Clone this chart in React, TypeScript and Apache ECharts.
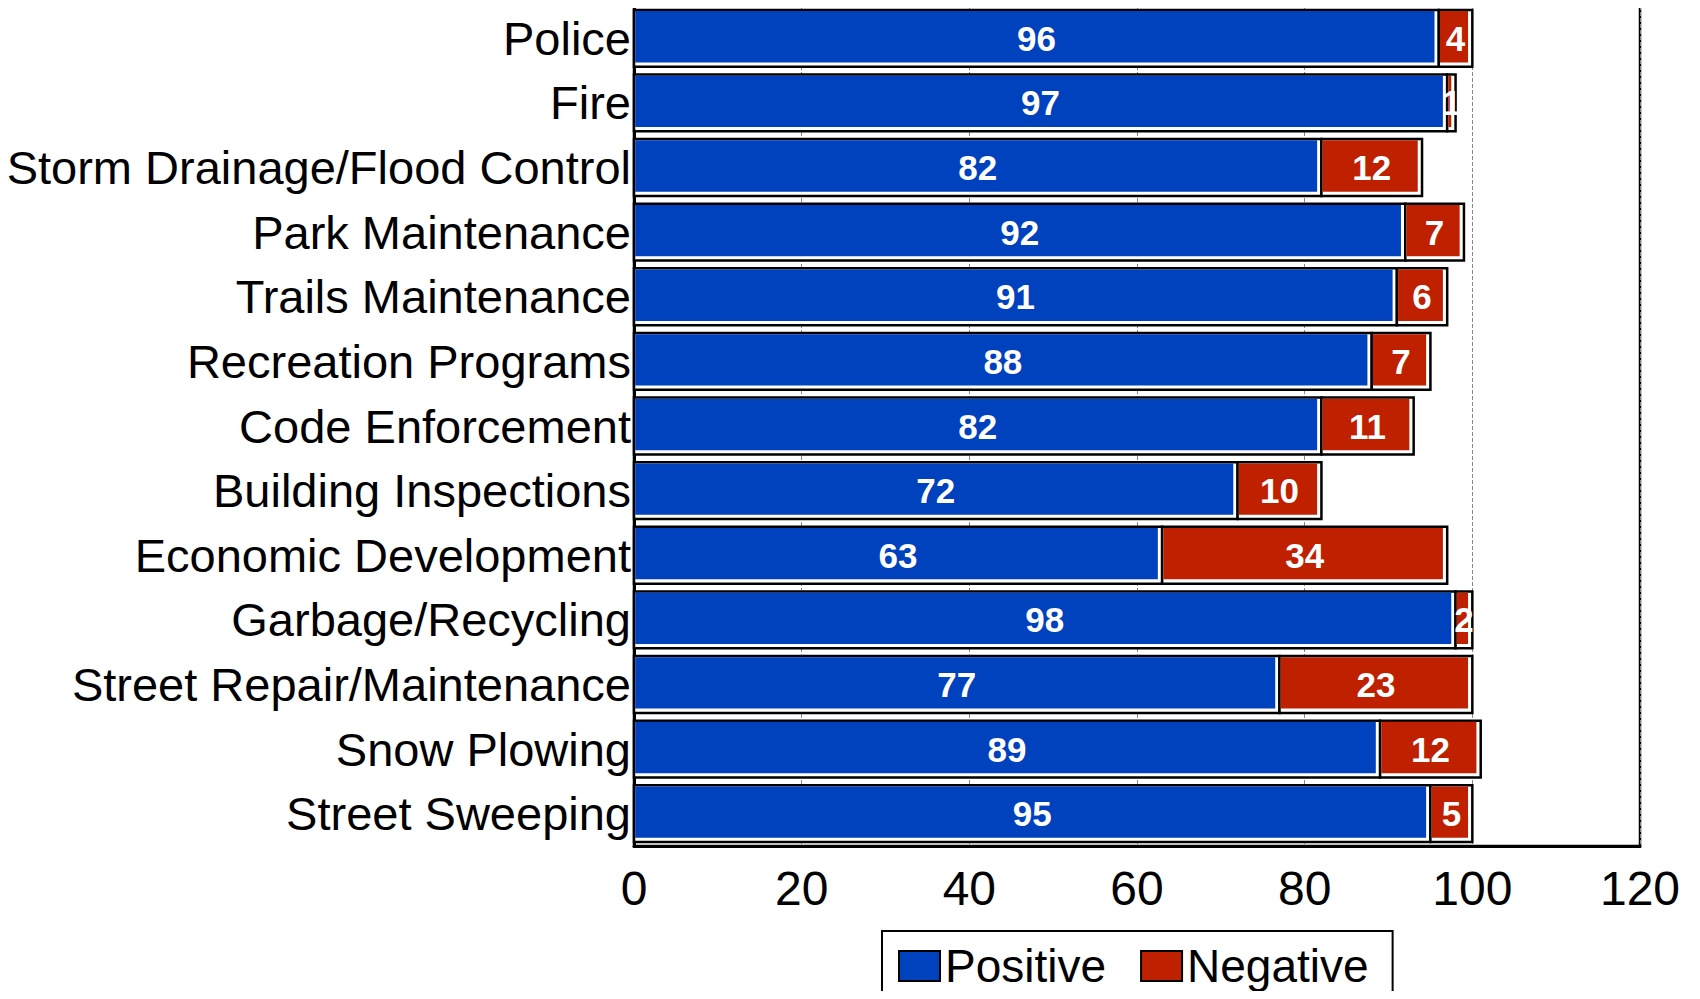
import React, { useEffect, useRef } from "react";
import * as echarts from "echarts";

const categories = [
  "Police",
  "Fire",
  "Storm Drainage/Flood Control",
  "Park Maintenance",
  "Trails Maintenance",
  "Recreation Programs",
  "Code Enforcement",
  "Building Inspections",
  "Economic Development",
  "Garbage/Recycling",
  "Street Repair/Maintenance",
  "Snow Plowing",
  "Street Sweeping",
];
const positive = [96, 97, 82, 92, 91, 88, 82, 72, 63, 98, 77, 89, 95];
const negative = [4, 1, 12, 7, 6, 7, 11, 10, 34, 2, 23, 12, 5];
const seriesNames = ["Positive", "Negative"];
const xTicks = { min: 0, max: 120, interval: 20 };

const BLUE = "#0041BE";
const RED = "#BF2000";
const FONT = "Liberation Sans, Arial, sans-serif";

function makeRender(color: string) {
  return (params: any, api: any) => {
    const start = api.value(0);
    const end = api.value(1);
    const cat = api.value(2);
    const val = api.value(3);
    const p0 = api.coord([start, cat]);
    const p1 = api.coord([end, cat]);
    const band = api.size([0, 1])[1];
    const h = band * 0.88;
    const x = p0[0];
    const y = p0[1] - h / 2;
    const w = p1[0] - p0[0];
    return {
      type: "group",
      children: [
        {
          type: "rect",
          shape: { x, y, width: w, height: h },
          style: { fill: "#fff", stroke: "#000", lineWidth: 2.5 },
        },
        {
          type: "rect",
          shape: {
            x: x + 1.2,
            y: y + 1.2,
            width: Math.max(w - 5.5, 0),
            height: h - 5.5,
          },
          style: { fill: color },
        },
        {
          type: "text",
          x: x + w / 2,
          y: p0[1],
          style: {
            text: String(val),
            fill: "#fff",
            fontSize: 35,
            fontWeight: "bold",
            fontFamily: FONT,
            align: "center",
            verticalAlign: "middle",
          },
        },
      ],
    };
  };
}

export default function App() {
  const ref = useRef<HTMLDivElement>(null);
  useEffect(() => {
    if (!ref.current) return;
    const chart = echarts.init(ref.current, null, { renderer: "svg" });
    const posData = positive.map((v, i) => [0, v, i, v]);
    const negData = negative.map((v, i) => [positive[i], positive[i] + v, i, v]);
    chart.setOption({
      animation: false,
      backgroundColor: "#fff",
      grid: {
        left: 634,
        top: 6,
        right: 60,
        bottom: 153,
        show: true,
        borderColor: "#000",
        borderWidth: 2.5,
        backgroundColor: "transparent",
        containLabel: false,
        outerBoundsMode: "none",
      },
      legend: {
        data: seriesNames,
        left: 882,
        top: 931,
        orient: "horizontal",
        borderColor: "#000",
        borderWidth: 2,
        padding: [12, 24, 30, 16],
        itemWidth: 41,
        itemHeight: 30,
        itemGap: 34,
        icon: "rect",
        itemStyle: { borderColor: "#000", borderWidth: 2 },
        textStyle: { fontSize: 46, color: "#000", fontFamily: FONT },
      },
      xAxis: {
        type: "value",
        min: xTicks.min,
        max: xTicks.max,
        interval: xTicks.interval,
        axisLine: { show: true, lineStyle: { color: "#000", width: 3 } },
        axisTick: { show: false },
        splitLine: {
          show: true,
          lineStyle: { color: "#888", type: "dashed", width: 1 },
        },
        axisLabel: {
          fontSize: 48,
          color: "#000",
          fontFamily: FONT,
          margin: 18,
        },
      },
      yAxis: {
        type: "category",
        data: categories,
        inverse: true,
        axisLine: { show: true, lineStyle: { color: "#000", width: 3 } },
        axisTick: { show: false },
        splitLine: { show: false },
        axisLabel: {
          fontSize: 47,
          color: "#000",
          fontFamily: FONT,
          margin: 3,
        },
      },
      series: [
        {
          name: seriesNames[0],
          type: "custom",
          renderItem: makeRender(BLUE),
          itemStyle: { color: BLUE },
          encode: { x: [0, 1], y: 2 },
          data: posData,
        },
        {
          name: seriesNames[1],
          type: "custom",
          renderItem: makeRender(RED),
          itemStyle: { color: RED },
          encode: { x: [0, 1], y: 2 },
          data: negData,
        },
      ],
    });
    return () => chart.dispose();
  }, []);
  return <div ref={ref} style={{ width: 1700, height: 999, margin: -8 }} />;
}
